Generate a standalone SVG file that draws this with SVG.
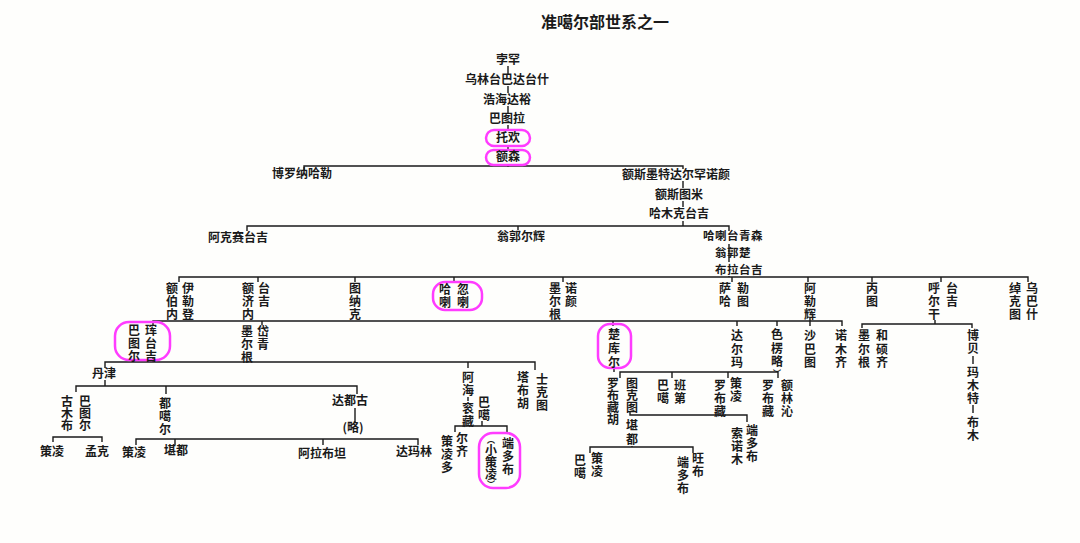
<svg xmlns="http://www.w3.org/2000/svg" width="1080" height="543" viewBox="0 0 1080 543">
<style>
.t{font-family:"Noto Sans CJK SC","Noto Sans CJK JP",sans-serif;font-size:12px;fill:#1a1a1a;text-anchor:middle;font-weight:700}
.v{writing-mode:vertical-rl;text-anchor:start;letter-spacing:1px}
.s{font-size:11.5px;letter-spacing:0.5px}
.ttl{font-size:16px}
.l{stroke:#1a1a1a;stroke-width:1.4;fill:none}
.hl{stroke:#ff3cff;stroke-width:2.5;fill:none}
</style>
<rect width="1080" height="543" fill="#fefefc"/>
<text id="title" class="t ttl" x="605" y="28">准噶尔部世系之一</text>
<g id="connectors" class="l">
<path d="M508 66V74M508 86V93M508 106V113M508 125V130M508 146V150M508 165V167"/>
<path d="M304 170V166H683V169M683 181V188M683 201V207M683 221V226"/>
<path d="M247 231V226H729V231M518 226V230M729 244V262M729 276V277"/>
<path d="M179 282V277H1028V282M258 277V282M355 277V282M454 277V282M563 277V282M732 277V282M808 277V282M872 277V282M941 277V282"/>
<path d="M153 325V321H842V326M262 321V325M613 321V326M737 321V326M777 321V326M810 318V326"/>
<path d="M935 320V324M862 328V324H972V328M973 356V364M973 405V413"/>
<path d="M153 358V362M105 368V362H535V370M468 362V368M468 397V401"/>
<path d="M482 421V426M455 432V426H507V434"/>
<path d="M105 380V386M76 392V386H357V394M166 386V394M355 408V422"/>
<path d="M53 442V437H102V442M136 445V439H418V445M175 439V445M323 439V445"/>
<path d="M614 368V372M620 378V372H778V378M672 372V378M728 372V378"/>
<path d="M630 412V415H747V422M632 446V447M590 453V447H693V453"/>
</g>
<g id="n-boshao"><text class="t" x="508" y="64">孛罕</text></g>
<g id="n-wulintai"><text class="t" x="507" y="84">乌林台巴达台什</text></g>
<g id="n-haohai"><text class="t" x="507" y="104">浩海达裕</text></g>
<g id="n-batula"><text class="t" x="507" y="123">巴图拉</text></g>
<g id="n-tohuan"><rect class="hl" x="486" y="130" width="44" height="16" rx="8"/><text class="t" x="508" y="142">托欢</text></g>
<g id="n-esen"><rect class="hl" x="486" y="150" width="44" height="15" rx="7.5"/><text class="t" x="508" y="161">额森</text></g>
<g id="n-boluona"><text class="t" x="302" y="178">博罗纳哈勒</text></g>
<g id="n-esimote"><text class="t" x="676" y="179">额斯墨特达尔罕诺颜</text></g>
<g id="n-esitumi"><text class="t" x="679" y="199">额斯图米</text></g>
<g id="n-hamuke"><text class="t" x="679" y="218">哈木克台吉</text></g>
<g id="n-akesai"><text class="t" x="238" y="242">阿克赛台吉</text></g>
<g id="n-wengguo"><text class="t" x="521" y="241">翁郭尔辉</text></g>
<g id="n-hala"><text class="t s" x="733" y="240">哈喇台青森</text><text class="t s" x="733" y="257">翁郭楚</text><text class="t s" x="739" y="274">布拉台吉</text></g>
<g id="n-eboinei"><text class="t v" x="172" y="282"><tspan>额</tspan><tspan>伯</tspan><tspan>内</tspan></text><text class="t v" x="188" y="282"><tspan>伊</tspan><tspan>勒</tspan><tspan>登</tspan></text></g>
<g id="n-ejinei"><text class="t v" x="248" y="282"><tspan>额</tspan><tspan>济</tspan><tspan>内</tspan></text><text class="t v" x="264" y="282"><tspan>台</tspan><tspan>吉</tspan></text></g>
<g id="n-tunake"><text class="t v" x="355" y="282"><tspan>图</tspan><tspan>纳</tspan><tspan>克</tspan></text></g>
<g id="n-hulahula"><rect class="hl" x="433" y="282" width="49" height="28" rx="12"/><text class="t v" x="445" y="283"><tspan>哈</tspan><tspan>喇</tspan></text><text class="t v" x="463" y="283"><tspan>忽</tspan><tspan>喇</tspan></text></g>
<g id="n-moergen-noyan"><text class="t v" x="555" y="282"><tspan>墨</tspan><tspan>尔</tspan><tspan>根</tspan></text><text class="t v" x="571" y="282"><tspan>诺</tspan><tspan>颜</tspan></text></g>
<g id="n-saha"><text class="t v" x="725" y="282"><tspan>萨</tspan><tspan>哈</tspan></text><text class="t v" x="743" y="282"><tspan>勒</tspan><tspan>图</tspan></text></g>
<g id="n-alehui"><text class="t v" x="810" y="282"><tspan>阿</tspan><tspan>勒</tspan><tspan>辉</tspan></text></g>
<g id="n-bingtu"><text class="t v" x="872" y="282"><tspan>丙</tspan><tspan>图</tspan></text></g>
<g id="n-huergan"><text class="t v" x="934" y="282"><tspan>呼</tspan><tspan>尔</tspan><tspan>干</tspan></text><text class="t v" x="952" y="282"><tspan>台</tspan><tspan>吉</tspan></text></g>
<g id="n-chuoketu"><text class="t v" x="1015" y="282"><tspan>绰</tspan><tspan>克</tspan><tspan>图</tspan></text><text class="t v" x="1032" y="282"><tspan>乌</tspan><tspan>巴</tspan><tspan>什</tspan></text></g>
<g id="n-baturhuntaiji"><rect class="hl" x="115" y="322" width="55" height="38" rx="14"/><text class="t v" x="134" y="324"><tspan>巴</tspan><tspan>图</tspan><tspan>尔</tspan></text><text class="t v" x="151" y="324"><tspan>珲</tspan><tspan>台</tspan><tspan>吉</tspan></text></g>
<g id="n-moergen-daiqing"><text class="t v" x="247" y="325"><tspan>墨</tspan><tspan>尔</tspan><tspan>根</tspan></text><text class="t v" x="263" y="325"><tspan>岱</tspan><tspan>青</tspan></text></g>
<g id="n-chukuer"><rect class="hl" x="598" y="324" width="33" height="44" rx="12"/><text class="t v" x="614" y="328" style="letter-spacing:2px"><tspan>楚</tspan><tspan>库</tspan><tspan>尔</tspan></text></g>
<g id="n-daerma"><text class="t v" x="737" y="329" style="letter-spacing:1.5px"><tspan>达</tspan><tspan>尔</tspan><tspan>玛</tspan></text></g>
<g id="n-seleng"><text class="t v" x="777" y="328" style="letter-spacing:1.5px"><tspan>色</tspan><tspan>楞</tspan><tspan>略</tspan><tspan style="font-size:8px;letter-spacing:0">︶</tspan></text></g>
<g id="n-shabatu"><text class="t v" x="810" y="329" style="letter-spacing:1.5px"><tspan>沙</tspan><tspan>巴</tspan><tspan>图</tspan></text></g>
<g id="n-nomuqi"><text class="t v" x="841" y="329" style="letter-spacing:1.5px"><tspan>诺</tspan><tspan>木</tspan><tspan>齐</tspan></text></g>
<g id="n-moergen-heshuoqi"><text class="t v" x="864" y="329" style="letter-spacing:1.5px"><tspan>墨</tspan><tspan>尔</tspan><tspan>根</tspan></text><text class="t v" x="882" y="329" style="letter-spacing:1.5px"><tspan>和</tspan><tspan>硕</tspan><tspan>齐</tspan></text></g>
<g id="n-bobei"><text class="t v" x="973" y="329"><tspan>博</tspan><tspan>贝</tspan></text><text class="t v" x="973" y="366"><tspan>玛</tspan><tspan>木</tspan><tspan>特</tspan></text><text class="t v" x="973" y="416"><tspan>布</tspan><tspan>木</tspan></text></g>
<g id="n-danjin"><text class="t" x="104" y="378">丹津</text></g>
<g id="n-ahai"><text class="t v" x="468" y="371"><tspan>阿</tspan><tspan>海</tspan></text><text class="t v" x="468" y="402"><tspan>衮</tspan><tspan>藏</tspan></text><text class="t v" x="484" y="396"><tspan>巴</tspan><tspan>噶</tspan></text></g>
<g id="n-tabuhu"><text class="t v" x="523" y="371"><tspan>塔</tspan><tspan>布</tspan><tspan>胡</tspan></text><text class="t v" x="542" y="373"><tspan>士</tspan><tspan>克</tspan><tspan>图</tspan></text></g>
<g id="n-celingduo"><text class="t v" x="447" y="435"><tspan>策</tspan><tspan>凌</tspan><tspan>多</tspan></text><text class="t v" x="462" y="432"><tspan>尔</tspan><tspan>齐</tspan></text></g>
<g id="n-duanduobu"><rect class="hl" x="479" y="433" width="41" height="55" rx="14"/><text class="t v" x="508" y="437"><tspan>端</tspan><tspan>多</tspan><tspan>布</tspan></text><text class="t v" x="491" y="436" style="letter-spacing:0"><tspan style="font-size:8px">︵</tspan><tspan>小</tspan><tspan>策</tspan><tspan>凌</tspan><tspan style="font-size:8px">︶</tspan></text></g>
<g id="n-gumubu"><text class="t v" x="67" y="395" style="letter-spacing:0"><tspan>古</tspan><tspan>木</tspan><tspan>布</tspan></text><text class="t v" x="85" y="395" style="letter-spacing:0"><tspan>巴</tspan><tspan>图</tspan><tspan>尔</tspan></text></g>
<g id="n-dugaer"><text class="t v" x="165" y="397"><tspan>都</tspan><tspan>噶</tspan><tspan>尔</tspan></text></g>
<g id="n-dadugu"><text class="t" x="350" y="405">达都古</text><text class="t" x="353" y="432">(略)</text></g>
<g id="n-celing1"><text class="t" x="52" y="456">策凌</text></g>
<g id="n-mengke"><text class="t" x="97" y="456">孟克</text></g>
<g id="n-celing2"><text class="t" x="134" y="457">策凌</text></g>
<g id="n-kandu1"><text class="t" x="176" y="455">堪都</text></g>
<g id="n-alabutan"><text class="t" x="322" y="458">阿拉布坦</text></g>
<g id="n-damalin"><text class="t" x="414" y="456">达玛林</text></g>
<g id="n-luobuzanghu"><text class="t v" x="613" y="377" style="letter-spacing:0"><tspan>罗</tspan><tspan>布</tspan><tspan>藏</tspan><tspan>胡</tspan></text></g>
<g id="n-tuketu"><text class="t v" x="632" y="377" style="letter-spacing:0"><tspan>图</tspan><tspan>克</tspan><tspan>图</tspan></text></g>
<g id="n-bandi"><text class="t v" x="663" y="379"><tspan>巴</tspan><tspan>噶</tspan></text><text class="t v" x="680" y="379"><tspan>班</tspan><tspan>第</tspan></text></g>
<g id="n-celing3"><text class="t v" x="720" y="379"><tspan>罗</tspan><tspan>布</tspan><tspan>藏</tspan></text><text class="t v" x="736" y="377"><tspan>策</tspan><tspan>凌</tspan></text></g>
<g id="n-elinqin"><text class="t v" x="768" y="379"><tspan>罗</tspan><tspan>布</tspan><tspan>藏</tspan></text><text class="t v" x="787" y="379"><tspan>额</tspan><tspan>林</tspan><tspan>沁</tspan></text></g>
<g id="n-kandu2"><text class="t v" x="632" y="419" style="letter-spacing:2px"><tspan>堪</tspan><tspan>都</tspan></text></g>
<g id="n-duanduobu2"><text class="t v" x="737" y="427"><tspan>索</tspan><tspan>诺</tspan><tspan>木</tspan></text><text class="t v" x="752" y="424"><tspan>端</tspan><tspan>多</tspan><tspan>布</tspan></text></g>
<g id="n-celing4"><text class="t v" x="580" y="454"><tspan>巴</tspan><tspan>噶</tspan></text><text class="t v" x="597" y="452"><tspan>策</tspan><tspan>凌</tspan></text></g>
<g id="n-wangbu"><text class="t v" x="683" y="456"><tspan>端</tspan><tspan>多</tspan><tspan>布</tspan></text><text class="t v" x="698" y="452"><tspan>旺</tspan><tspan>布</tspan></text></g>
</svg>
